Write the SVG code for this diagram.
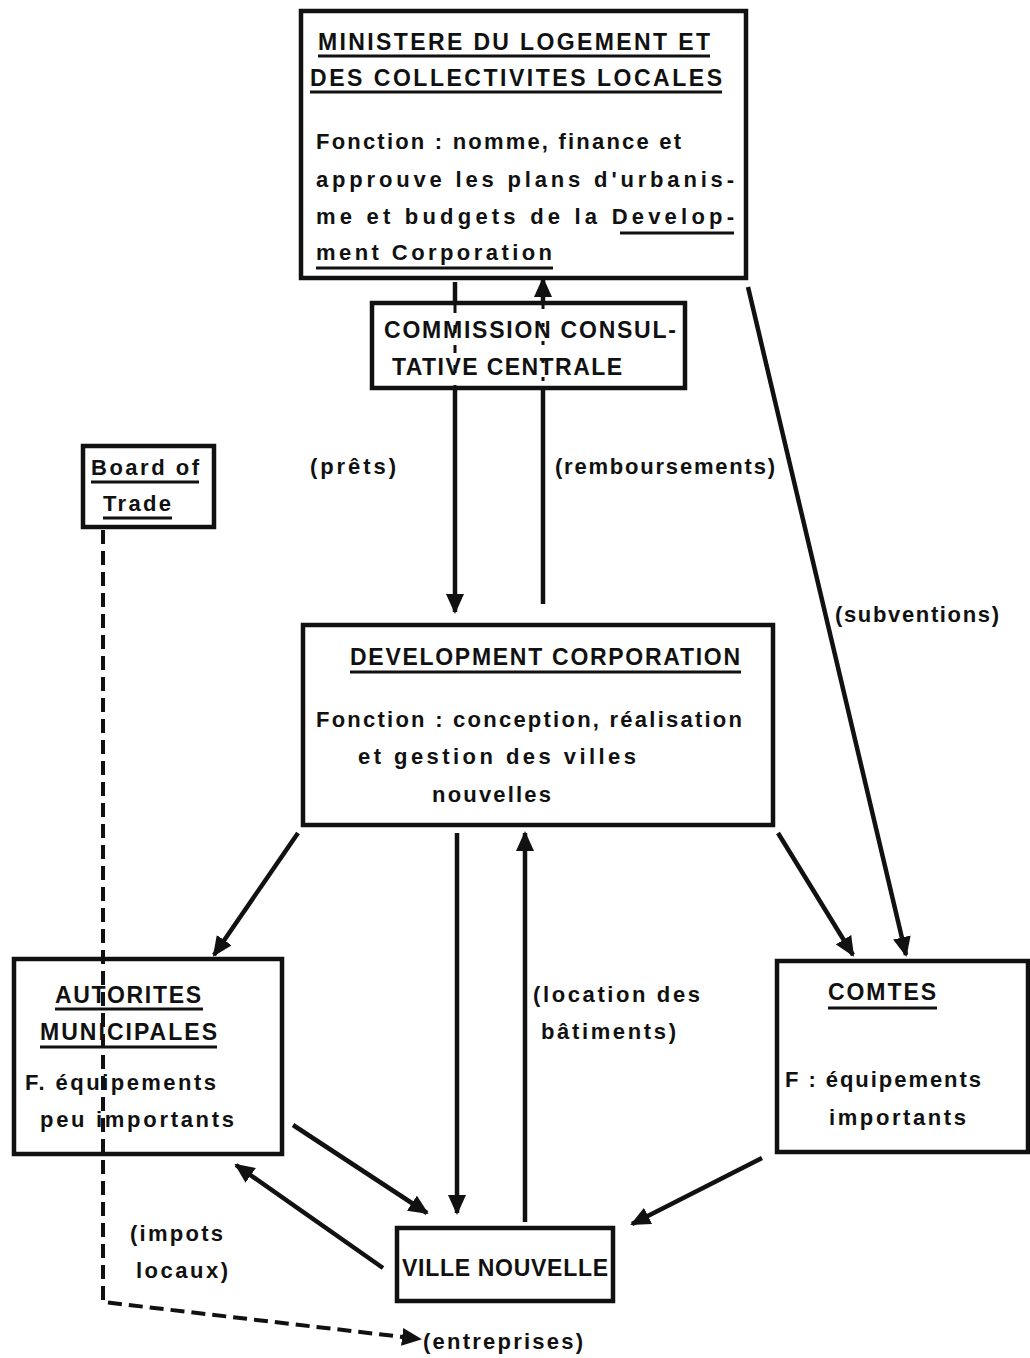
<svg xmlns="http://www.w3.org/2000/svg" width="1030" height="1358" viewBox="0 0 1030 1358">
<defs>
<marker id="ah" markerUnits="userSpaceOnUse" markerWidth="20" markerHeight="18" refX="18" refY="9" orient="auto">
<path d="M0,0 L20,9 L0,18 Z" fill="#111"/>
</marker>
<style>
.box{fill:#fff;stroke:#111;stroke-width:4.5}
.ln{stroke:#111;stroke-width:4.5;fill:none}
.ds{stroke:#111;stroke-width:4;fill:none;stroke-dasharray:14 7}
.ul{stroke:#111;stroke-width:3}
text{font-family:"Liberation Sans",Arial,sans-serif;font-weight:bold;fill:#111}
.t{font-size:23px}
.b{font-size:22px}
</style>
</defs>
<rect width="1030" height="1358" fill="#fff"/>
<g id="ministere">
<rect class="box" x="301" y="11" width="445" height="267"/>
<text class="t" x="318" y="50" textLength="392">MINISTERE DU LOGEMENT ET</text>
<line class="ul" x1="318" y1="56" x2="710" y2="56"/>
<text class="t" x="310" y="86" textLength="412">DES COLLECTIVITES  LOCALES</text>
<line class="ul" x1="310" y1="92" x2="722" y2="92"/>
<text class="b" x="316" y="149" textLength="365">Fonction : nomme, finance  et</text>
<text class="b" x="316" y="187" textLength="418">approuve  les  plans  d'urbanis-</text>
<text class="b" x="316" y="224" textLength="418">me  et  budgets  de  la  Develop-</text>
<line class="ul" x1="620" y1="233" x2="734" y2="233"/>
<text class="b" x="316" y="260" textLength="236">ment  Corporation</text>
<line class="ul" x1="316" y1="268" x2="553" y2="268"/>
</g>
<g id="commission">
<rect class="box" x="372" y="303" width="313" height="85"/>
<text class="t" x="384" y="338" textLength="292">COMMISSION CONSUL-</text>
<text class="t" x="392" y="375" textLength="230">TATIVE CENTRALE</text>
</g>
<g id="labels">
<text class="b" x="310" y="474" textLength="86">(prêts)</text>
<text class="b" x="555" y="474" textLength="220">(remboursements)</text>
<text class="b" x="835" y="622" textLength="164">(subventions)</text>
<text class="b" x="533" y="1002" textLength="167">(location des</text>
<text class="b" x="541" y="1039" textLength="135">bâtiments)</text>
<text class="b" x="130" y="1241" textLength="93">(impots</text>
<text class="b" x="136" y="1278" textLength="92">locaux)</text>
<text class="b" x="423" y="1349" textLength="160">(entreprises)</text>
</g>
<g id="board">
<rect class="box" x="83" y="446" width="131" height="81"/>
<text class="b" x="91" y="475" textLength="108">Board of</text>
<line class="ul" x1="91" y1="482" x2="199" y2="482"/>
<text class="b" x="103" y="511" textLength="68">Trade</text>
<line class="ul" x1="103" y1="518" x2="172" y2="518"/>
</g>
<g id="devcorp">
<rect class="box" x="303" y="625" width="470" height="200"/>
<text class="t" x="350" y="665" textLength="390">DEVELOPMENT  CORPORATION</text>
<line class="ul" x1="350" y1="672" x2="741" y2="672"/>
<text class="b" x="316" y="727" textLength="426">Fonction : conception, réalisation</text>
<text class="b" x="358" y="764" textLength="278">et gestion des villes</text>
<text class="b" x="432" y="802" textLength="119">nouvelles</text>
</g>
<g id="autorites">
<rect class="box" x="14" y="959" width="268" height="195"/>
<text class="t" x="55" y="1003" textLength="146">AUTORITES</text>
<line class="ul" x1="55" y1="1009" x2="203" y2="1009"/>
<text class="t" x="40" y="1040" textLength="177">MUNICIPALES</text>
<line class="ul" x1="40" y1="1047" x2="217" y2="1047"/>
<text class="b" x="25" y="1090" textLength="191">F. équipements</text>
<text class="b" x="40" y="1127" textLength="194">peu importants</text>
</g>
<g id="comtes">
<rect class="box" x="777" y="961" width="251" height="191"/>
<text class="t" x="828" y="1000" textLength="108">COMTES</text>
<line class="ul" x1="828" y1="1008" x2="937" y2="1008"/>
<text class="b" x="785" y="1087" textLength="196">F : équipements</text>
<text class="b" x="829" y="1125" textLength="137">importants</text>
</g>
<g id="ville">
<rect class="box" x="397" y="1228" width="216" height="73"/>
<text class="t" x="402" y="1276" textLength="206">VILLE NOUVELLE</text>
</g>
<g id="connectors">
<line class="ln" x1="455" y1="282" x2="455" y2="303"/>
<line class="ln" x1="455" y1="390" x2="455" y2="612" marker-end="url(#ah)"/>
<line x1="455" y1="305" x2="455" y2="388" stroke="#111" stroke-width="3" stroke-dasharray="8 12"/>
<line class="ln" x1="543" y1="604" x2="543" y2="390"/>
<line class="ln" x1="543" y1="303" x2="543" y2="279" marker-end="url(#ah)"/>
<line x1="543" y1="305" x2="543" y2="388" stroke="#111" stroke-width="3" stroke-dasharray="4 14"/>
<line class="ln" x1="748" y1="287" x2="906" y2="955" marker-end="url(#ah)"/>
<line class="ln" x1="298" y1="833" x2="214" y2="955" marker-end="url(#ah)"/>
<line class="ln" x1="457" y1="833" x2="457" y2="1213" marker-end="url(#ah)"/>
<line class="ln" x1="525" y1="1222" x2="525" y2="833" marker-end="url(#ah)"/>
<line class="ln" x1="778" y1="833" x2="853" y2="955" marker-end="url(#ah)"/>
<line class="ln" x1="293" y1="1125" x2="427" y2="1213" marker-end="url(#ah)"/>
<line class="ln" x1="383" y1="1268" x2="236" y2="1165" marker-end="url(#ah)"/>
<line class="ln" x1="762" y1="1158" x2="632" y2="1224" marker-end="url(#ah)"/>
<path class="ds" d="M103,530 L103,1302 L420,1339" marker-end="url(#ah)"/>
</g>
</svg>
